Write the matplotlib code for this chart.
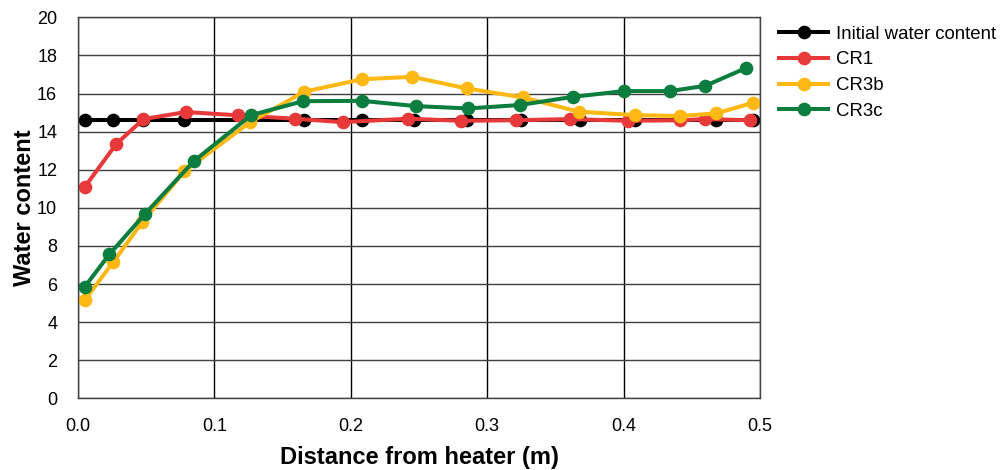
import matplotlib
matplotlib.use("Agg")
import matplotlib.pyplot as plt

plt.rcParams['font.family'] = ['Liberation Sans', 'DejaVu Sans']

# data
x_init = [0.005, 0.026, 0.048, 0.078, 0.166, 0.208, 0.246, 0.285, 0.325, 0.368, 0.408, 0.468, 0.495]
y_init = [14.6, 14.6, 14.6, 14.6, 14.6, 14.6, 14.6, 14.6, 14.6, 14.6, 14.6, 14.6, 14.6]

x_cr1 = [0.005, 0.028, 0.048, 0.079, 0.117, 0.159, 0.194, 0.242, 0.281, 0.321, 0.361, 0.403, 0.441, 0.460, 0.493]
y_cr1 = [11.1, 13.35, 14.66, 15.03, 14.86, 14.68, 14.5, 14.68, 14.57, 14.6, 14.66, 14.57, 14.6, 14.66, 14.6]

x_cr3b = [0.005, 0.026, 0.047, 0.078, 0.126, 0.166, 0.208, 0.245, 0.285, 0.326, 0.367, 0.408, 0.441, 0.468, 0.495]
y_cr3b = [5.16, 7.17, 9.24, 11.93, 14.49, 16.1, 16.75, 16.88, 16.27, 15.8, 15.05, 14.87, 14.82, 14.96, 15.52]

x_cr3c = [0.005, 0.023, 0.049, 0.085, 0.127, 0.165, 0.208, 0.248, 0.286, 0.324, 0.363, 0.400, 0.434, 0.460, 0.490]
y_cr3c = [5.86, 7.56, 9.67, 12.46, 14.87, 15.6, 15.62, 15.34, 15.22, 15.4, 15.83, 16.13, 16.13, 16.41, 17.35]

fig = plt.figure(figsize=(10, 4.7), dpi=100)
ax = fig.add_axes([0.078, 0.1525, 0.682, 0.8105])

lw = 2.9
ms = 8.8
ax.plot(x_init, y_init, '-o', color='black', lw=lw, ms=ms, label='Initial water content')
ax.plot(x_cr1, y_cr1, '-o', color='#E8393A', lw=lw, ms=ms, label='CR1')
ax.plot(x_cr3b, y_cr3b, '-o', color='#FDB813', lw=lw, ms=ms, label='CR3b')
ax.plot(x_cr3c, y_cr3c, '-o', color='#0B7D3E', lw=lw, ms=ms, label='CR3c')

ax.set_xlim(0, 0.5)
ax.set_ylim(0, 20)
ax.set_xticks([0.0, 0.1, 0.2, 0.3, 0.4, 0.5])
ax.set_xticklabels(['0.0', '0.1', '0.2', '0.3', '0.4', '0.5'])
ax.set_yticks(range(0, 21, 2))
ax.tick_params(axis='both', length=0, labelsize=13)
ax.tick_params(axis='y', pad=15)
ax.tick_params(axis='x', pad=14)

ax.grid(axis='y', color='#404040', lw=1)
ax.grid(axis='x', color='black', lw=1)
ax.set_axisbelow(True)
for s in ax.spines.values():
    s.set_color('#404040')
    s.set_linewidth(1)

ax.set_xlabel('Distance from heater (m)', fontsize=17, fontweight='bold', labelpad=8)
ax.set_ylabel('Water content', fontsize=17, fontweight='bold', labelpad=1)

ax.legend(loc='upper left', bbox_to_anchor=(1.012, 1.008), frameon=False, fontsize=13.4,
          handlelength=2.6, handletextpad=0.45, labelspacing=0.47, borderaxespad=0.2)

fig.savefig('out.png', dpi=100)
